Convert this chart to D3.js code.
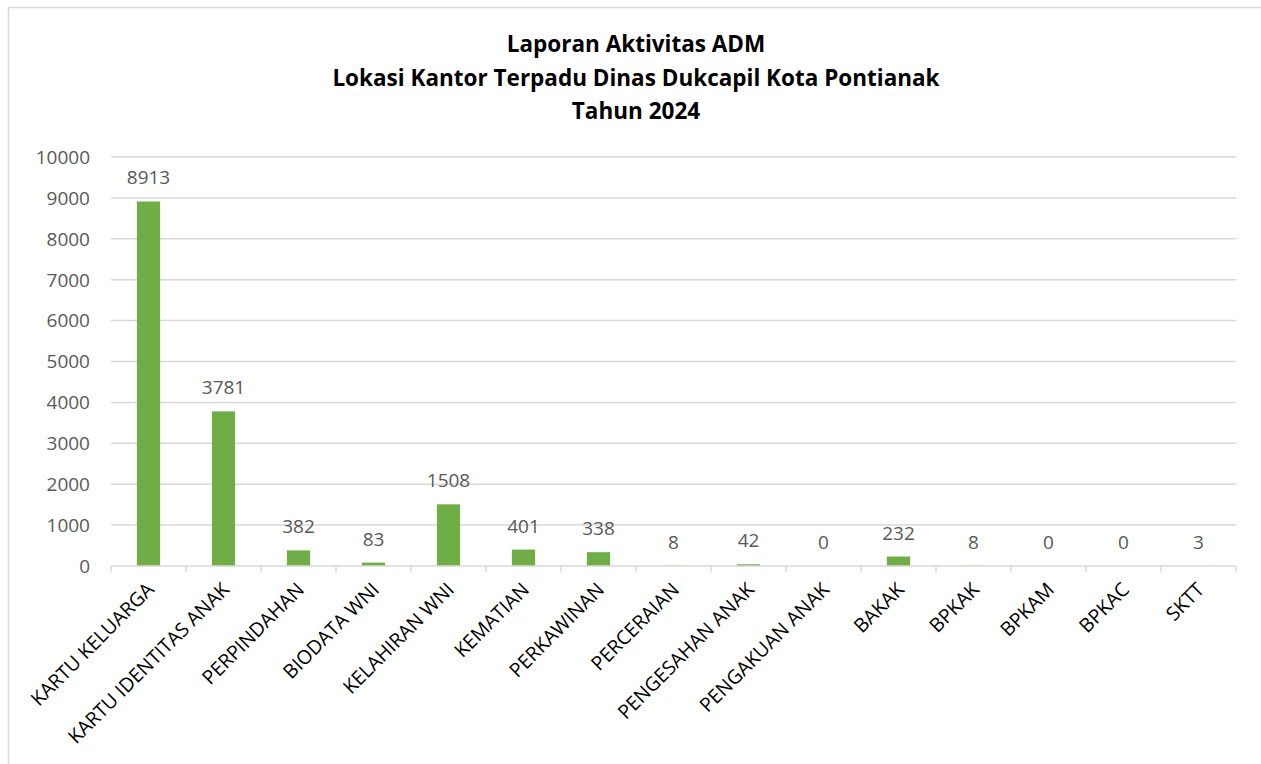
<!DOCTYPE html>
<html>
<head>
<meta charset="utf-8">
<script src="https://cdn.jsdelivr.net/npm/d3@7"></script>
<style>
  body { margin: 0; background: #fff; }
  svg { font-family: "Open Sans", sans-serif; }
</style>
</head>
<body>
<div class="chart"></div>
<script>
// chart data
var categories = ["KARTU KELUARGA", "KARTU IDENTITAS ANAK", "PERPINDAHAN", "BIODATA WNI",
    "KELAHIRAN WNI", "KEMATIAN", "PERKAWINAN", "PERCERAIAN", "PENGESAHAN ANAK",
    "PENGAKUAN ANAK", "BAKAK", "BPKAK", "BPKAM", "BPKAC", "SKTT"];
var values = [8913, 3781, 382, 83, 1508, 401, 338, 8, 42, 0, 232, 8, 0, 0, 3];
var yTicks = [0, 1000, 2000, 3000, 4000, 5000, 6000, 7000, 8000, 9000, 10000];
var titleLines = ["Laporan Aktivitas ADM", "Lokasi Kantor Terpadu Dinas Dukcapil Kota Pontianak", "Tahun 2024"];

var width = 1261,
    height = 764;
var plot = {left: 111, right: 1236, top: 157, bottom: 566};

var svg = d3.select(".chart").append("svg")
    .attr("width", width)
    .attr("height", height);

// chart frame
svg.append("rect")
    .attr("x", 8.5).attr("y", 7.5)
    .attr("width", 1262).attr("height", 770)
    .attr("fill", "#fff")
    .attr("stroke", "#d9d9d9")
    .attr("stroke-width", 1.5);

// title
svg.append("g").selectAll("text")
    .data(titleLines)
    .enter().append("text")
    .attr("x", 636)
    .attr("y", function (d, i) { return 52 + i * 33.5; })
    .attr("text-anchor", "middle")
    .attr("font-size", 22.5)
    .attr("font-weight", "bold")
    .attr("fill", "#000")
    .text(function (d) { return d; });

//scales
var x = d3.scaleBand()
    .domain(categories)
    .range([plot.left, plot.right])
    .paddingInner(0.69)
    .paddingOuter(0.345);

var xb = d3.scaleBand()
    .domain(categories)
    .range([plot.left, plot.right]);

var y = d3.scaleLinear()
    .domain([0, 10000])
    .range([plot.bottom, plot.top]);

// gridlines
svg.append("g").selectAll("line")
    .data(yTicks.filter(function (d) { return d > 0; }))
    .enter().append("line")
    .attr("x1", plot.left).attr("x2", plot.right)
    .attr("y1", function (d) { return y(d); })
    .attr("y2", function (d) { return y(d); })
    .attr("stroke", "#d9d9d9")
    .attr("stroke-width", 1.5);

// y axis labels
svg.append("g").selectAll("text")
    .data(yTicks)
    .enter().append("text")
    .attr("x", 90)
    .attr("y", function (d) { return y(d); })
    .attr("dy", "0.36em")
    .attr("text-anchor", "end")
    .attr("font-size", 19)
    .attr("fill", "#595959")
    .text(function (d) { return d; });

// bars
svg.append("g").selectAll("rect")
    .data(values)
    .enter().append("rect")
    .attr("x", function (d, i) { return x(categories[i]); })
    .attr("width", x.bandwidth())
    .attr("y", function (d) { return y(d); })
    .attr("height", function (d) { return y(0) - y(d); })
    .attr("fill", "#70ad47");

// value labels
svg.append("g").selectAll("text")
    .data(values)
    .enter().append("text")
    .attr("x", function (d, i) { return x(categories[i]) + x.bandwidth() / 2; })
    .attr("y", function (d) { return y(d) - 17; })
    .attr("text-anchor", "middle")
    .attr("font-size", 19)
    .attr("fill", "#595959")
    .text(function (d) { return d; });

// x axis line and ticks
var xAxis = svg.append("g");
xAxis.append("line")
    .attr("x1", plot.left).attr("x2", plot.right)
    .attr("y1", plot.bottom).attr("y2", plot.bottom)
    .attr("stroke", "#d9d9d9")
    .attr("stroke-width", 1.5);
xAxis.selectAll(".tick")
    .data(categories.concat(["end"]))
    .enter().append("line")
    .attr("x1", function (d, i) { return plot.left + i * xb.bandwidth(); })
    .attr("x2", function (d, i) { return plot.left + i * xb.bandwidth(); })
    .attr("y1", plot.bottom).attr("y2", plot.bottom + 6)
    .attr("stroke", "#d9d9d9")
    .attr("stroke-width", 1.5);

// category labels
xAxis.selectAll("text")
    .data(categories)
    .enter().append("text")
    .attr("transform", function (d) {
        return "translate(" + (xb(d) + xb.bandwidth() / 2 + 2) + "," + (plot.bottom + 20) + ") rotate(-45)";
    })
    .attr("text-anchor", "end")
    .attr("dy", "0.35em")
    .attr("font-size", 19.5)
    .attr("fill", "#000")
    .text(function (d) { return d; });
</script>
</body>
</html>
